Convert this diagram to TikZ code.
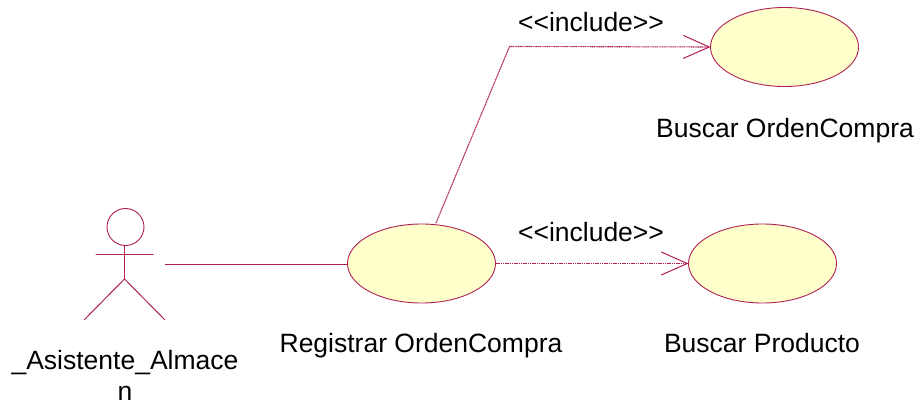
\documentclass[tikz,border=0pt]{standalone}
\usepackage{fontspec}
\setmainfont{Liberation Sans}
\usetikzlibrary{arrows.meta,shapes.geometric}
\definecolor{rosecol}{RGB}{176,32,84}
\definecolor{fillcol}{RGB}{255,255,204}
\tikzset{
  usecase/.style={ellipse,draw=rosecol,fill=fillcol,line width=0.9pt,inner sep=0pt,outer sep=0pt,minimum width=148pt,minimum height=79pt},
  lbl/.style={font=\fontsize{26.5pt}{32pt}\selectfont,text=black,inner sep=0pt,anchor=base,align=center},
  assoc/.style={draw=rosecol,line width=1pt},
  incl/.style={draw=rosecol,line width=1.1pt,dash pattern=on 1.2pt off 0.6pt,-{Straight Barb[length=26pt,width=23pt,line width=1pt]}},
  limb/.style={draw=rosecol,line width=1pt,line cap=round}
}
\begin{document}
\begin{tikzpicture}[x=1pt,y=-1pt]
\useasboundingbox (0,0) rectangle (917,403);
\node[usecase] (reg) at (421.5,263.5) {};
\node[usecase] (oc) at (784.5,47) {};
\node[usecase] (prod) at (762.5,263.5) {};
\node[circle,draw=rosecol,line width=0.9pt,minimum size=37pt,inner sep=0pt,outer sep=0pt] (head) at (125.5,227) {};
\coordinate (hip) at (124.5,279);
\coordinate (armL) at (96,254.5);
\coordinate (armR) at (153,254.5);
\coordinate (legL) at (84.5,319.5);
\coordinate (legR) at (164.5,319.5);
\coordinate (actorEnd) at (165,264.5);
\coordinate (bendA) at (509.5,46.5);
\coordinate (startA) at (436,223);
\draw[limb] (head.south -| hip) -- (hip);
\draw[limb] (armL) -- (armR);
\draw[limb] (legL) -- (hip) -- (legR);
\draw[assoc] (actorEnd) -- (reg.west |- actorEnd);
\draw[incl] (startA) -- (bendA) -- (oc.west);
\draw[incl] (reg.east) -- (prod.west);
\node[lbl] (t1) at (591,32) {<{}<include>{}>};
\node[lbl] (t2) at (591,241) {<{}<include>{}>};
\node[lbl] (t3) at (785,138) {Buscar OrdenCompra};
\node[lbl] (t4) at (762,352) {Buscar Producto};
\node[lbl] (t5) at (421,352) {Registrar OrdenCompra};
\node[lbl] (t6) at (125,369) {\_Asistente\_Almace};
\node[lbl] (t7) at (125,400) {n};
\end{tikzpicture}
\end{document}
